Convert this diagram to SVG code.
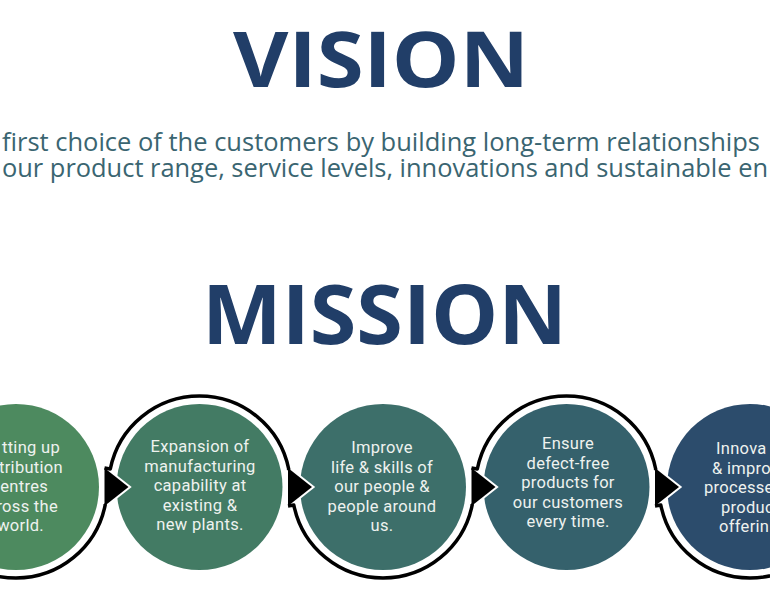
<svg xmlns="http://www.w3.org/2000/svg" width="770" height="608" viewBox="0 0 770 608">
<style>
.title{font-family:"Open Sans","Liberation Sans",sans-serif;font-weight:700;fill:#213e68;text-anchor:middle}
.sub{font-family:"Open Sans","Liberation Sans",sans-serif;font-size:26px;fill:#3a6571}
.lbl{font-family:Roboto,"Liberation Sans",sans-serif;font-size:16.5px;letter-spacing:0.3px;fill:#eef2ef;text-anchor:middle}
.lblE{text-anchor:end}
.lblS{text-anchor:start}
.ring{fill:none;stroke:#000;stroke-width:3.5;stroke-linejoin:round}
.ahw{fill:#000;stroke:#fff;stroke-width:4;stroke-linejoin:miter}
.ah{fill:#000}
</style>
<rect x="0" y="0" width="770" height="608" fill="#fff"/>
<g id="vision">
<text class="title" x="381" y="87" font-size="77" textLength="296" lengthAdjust="spacingAndGlyphs">VISION</text>
<text class="sub"><tspan x="2" y="151" textLength="758" lengthAdjust="spacingAndGlyphs">first choice of the customers by building long-term relationships</tspan><tspan x="2" y="177" textLength="766" lengthAdjust="spacingAndGlyphs">our product range, service levels, innovations and sustainable en</tspan></text>
</g>
<g id="mission">
<text class="title" x="384.5" y="344" font-size="82" textLength="365" lengthAdjust="spacingAndGlyphs">MISSION</text>
</g>
<g id="node1">
<circle cx="16" cy="487" r="83" fill="#4d8a5f"/>
<text class="lbl lblE"><tspan x="60" y="453">tting up</tspan><tspan x="63" y="472.5">tribution</tspan><tspan x="48" y="492">entres</tspan><tspan x="58" y="511.5">ross the</tspan><tspan x="44" y="531">world.</tspan></text>
</g>
<g id="node2">
<circle cx="199.5" cy="487" r="83" fill="#437b64"/>
<text class="lbl"><tspan x="200" y="452">Expansion of</tspan><tspan x="200" y="471.5">manufacturing</tspan><tspan x="200" y="491">capability at</tspan><tspan x="200" y="510.5">existing &amp;</tspan><tspan x="200" y="530">new plants.</tspan></text>
</g>
<g id="node3">
<circle cx="383" cy="487" r="83" fill="#3d6f6a"/>
<text class="lbl"><tspan x="382" y="453">Improve</tspan><tspan x="382" y="472.5">life &amp; skills of</tspan><tspan x="382" y="492">our people &amp;</tspan><tspan x="382" y="511.5">people around</tspan><tspan x="382" y="531">us.</tspan></text>
</g>
<g id="node4">
<circle cx="566.5" cy="487" r="83" fill="#35616c"/>
<text class="lbl"><tspan x="568" y="449">Ensure</tspan><tspan x="568" y="468.5">defect-free</tspan><tspan x="568" y="488">products for</tspan><tspan x="568" y="507.5">our customers</tspan><tspan x="568" y="527">every time.</tspan></text>
</g>
<g id="node5">
<circle cx="750" cy="487" r="83" fill="#2c4c6c"/>
<text class="lbl lblS"><tspan x="716" y="454">Innova</tspan><tspan x="712" y="473.5">&amp; impro</tspan><tspan x="704" y="493">processe</tspan><tspan x="721" y="512.5">produc</tspan><tspan x="719" y="532">offerin</tspan></text>
</g>
<g id="connectors">
<polygon class="ahw" points="104.5,468 128.5,487 104.5,506"/>
<polygon class="ahw" points="288,468 312,487 288,506"/>
<polygon class="ahw" points="471.5,468 495.5,487 471.5,506"/>
<polygon class="ahw" points="655,468 679,487 655,506"/>
<path class="ring" d="M -73.2 505 A 91 91 0 0 0 105.2 505 L 104.5 506"/>
<path class="ring" d="M 104.5 468 L 110.3 469 A 91 91 0 0 1 288.7 469 L 288 468"/>
<path class="ring" d="M 288 506 L 293.8 505 A 91 91 0 0 0 472.2 505 L 471.5 506"/>
<path class="ring" d="M 471.5 468 L 477.3 469 A 91 91 0 0 1 655.7 469 L 655 468"/>
<path class="ring" d="M 655 506 L 660.8 505 A 91 91 0 0 0 839.2 505"/>
<polygon class="ah" points="104.5,468 128.5,487 104.5,506"/>
<polygon class="ah" points="288,468 312,487 288,506"/>
<polygon class="ah" points="471.5,468 495.5,487 471.5,506"/>
<polygon class="ah" points="655,468 679,487 655,506"/>
</g>
</svg>
